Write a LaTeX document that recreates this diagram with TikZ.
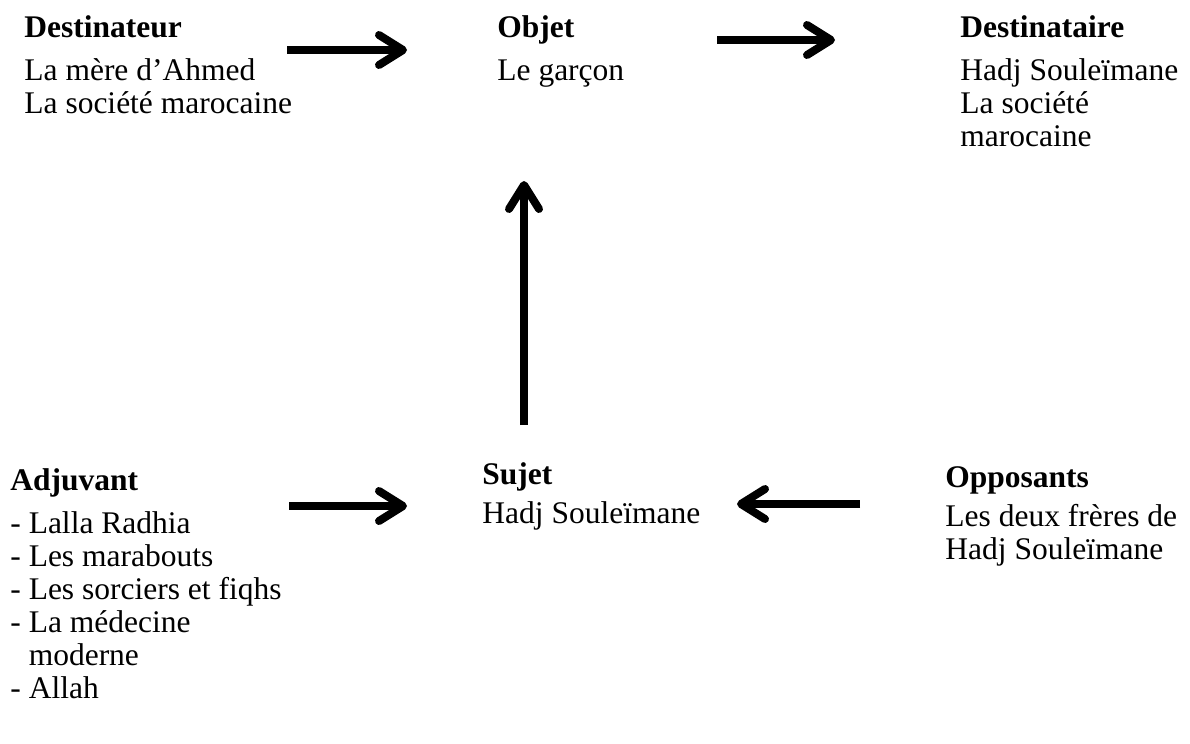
\documentclass[tikz,border=0pt]{standalone}
\usepackage{fontspec}
\setmainfont{Liberation Serif}
\usetikzlibrary{arrows.meta}

\begin{document}
\begin{tikzpicture}[
    x=0.5pt, y=-0.5pt,
    txt/.style={anchor=north west, inner sep=0pt, align=left, font=\fontsize{15.75pt}{16.5pt}\selectfont},
    arrow/.style={line width=4pt, -{Straight Barb[length=12pt, width=15pt, round]}}
]
\useasboundingbox (0,0) rectangle (1190,744);

% Top row
\node[txt] (destinateur) at (24,15) {\textbf{Destinateur}\\[5pt]La mère d’Ahmed\\La société marocaine};
\node[txt] (objet) at (497,15) {\textbf{Objet}\\[5pt]Le garçon};
\node[txt] (destinataire) at (960,15) {\textbf{Destinataire}\\[5pt]Hadj Souleïmane\\La société\\marocaine};

% Bottom row
\node[txt] (adjuvant) at (10,468) {\textbf{Adjuvant}\\[5pt]- Lalla Radhia\\- Les marabouts\\- Les sorciers et fiqhs\\- La médecine\\\hphantom{-}\ moderne\\- Allah};
\node[txt] (sujet) at (482,462) {\textbf{Sujet}\\[3pt]Hadj Souleïmane};
\node[txt] (opposants) at (945,466) {\textbf{Opposants}\\[3pt]Les deux frères de\\Hadj Souleïmane};

% Arrow ends
\coordinate (dr-a) at (287,50);
\coordinate (dr-b) at (407,50);
\coordinate (ob-a) at (717,40);
\coordinate (ob-b) at (835,40);
\coordinate (sj-a) at (524,425);
\coordinate (sj-b) at (524,181);
\coordinate (ad-a) at (289,506);
\coordinate (ad-b) at (407,506);
\coordinate (op-a) at (860,504);
\coordinate (op-b) at (737,504);

\draw[arrow] (dr-a) -- (dr-b);
\draw[arrow] (ob-a) -- (ob-b);
\draw[arrow] (sj-a) -- (sj-b);
\draw[arrow] (ad-a) -- (ad-b);
\draw[arrow] (op-a) -- (op-b);

\end{tikzpicture}
\end{document}
